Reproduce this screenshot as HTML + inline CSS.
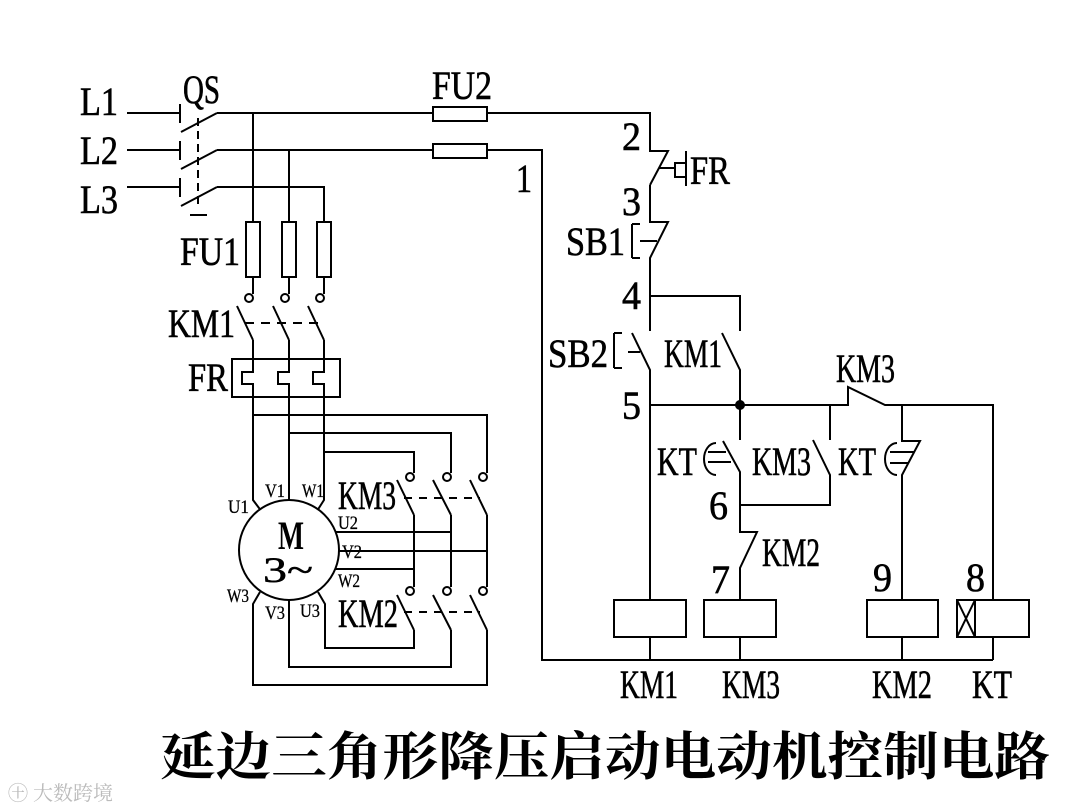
<!DOCTYPE html>
<html><head><meta charset="utf-8"><style>
html,body{margin:0;padding:0;background:#fff;}
svg{display:block}
text{font-family:"Liberation Serif","Noto Serif CJK SC",serif;fill:#000}
.b{font-size:40px;stroke:#000;stroke-width:0.6px}
.s{font-size:19px;stroke:#000;stroke-width:0.3px}
</style></head><body>
<svg width="1080" height="810" viewBox="0 0 1080 810" xmlns="http://www.w3.org/2000/svg">
<g stroke="#000" stroke-width="2" fill="none">
<path d="M127,113H180M127,150H180M127,187H180"/>
<path d="M180,104V123M180,141V160M180,178V197"/>
<path d="M181,132L217,113M181,169L217,150M181,206L217,187"/>
<path d="M198,118V205" stroke-dasharray="8,5"/>
<path d="M190,215H207"/>
<path d="M217,113H650V151H668L650,185"/>
<path d="M217,150H542V660H993"/>
<path d="M217,187H324V222"/>
<path d="M253,113V222M289,150V222"/>
<rect x="433" y="107" width="54" height="14" fill="#fff"/>
<rect x="433" y="144" width="54" height="14" fill="#fff"/>
<rect x="246" y="222" width="14" height="55"/>
<rect x="282" y="222" width="14" height="55"/>
<rect x="317" y="222" width="14" height="55"/>
<path d="M253,277V294M289,277V294M324,277V294"/>
<circle cx="249" cy="298" r="4"/><circle cx="285" cy="298" r="4"/><circle cx="320" cy="298" r="4"/>
<path d="M237,306L253,340M273,306L289,340M308,306L324,340"/>
<path d="M245,323H320" stroke-dasharray="9,7"/>
<rect x="232" y="359" width="108" height="38"/>
<path d="M253,340V372H242V384H253V415M289,340V372H278V384H289V433M324,340V372H313V384H324V452"/>
<path d="M253,415H487V473M289,433H451V473M324,452H414V473"/>
<circle cx="410" cy="477" r="4"/><circle cx="447" cy="477" r="4"/><circle cx="483" cy="477" r="4"/>
<path d="M397,480L414,515M433,480L451,515M470,480L487,515"/>
<path d="M404,498H480" stroke-dasharray="8,7"/>
<path d="M414,515V587M451,515V587M487,515V587"/>
<circle cx="410" cy="591" r="4"/><circle cx="447" cy="591" r="4"/><circle cx="483" cy="591" r="4"/>
<path d="M397,595L414,630M433,595L451,630M470,595L487,630"/>
<path d="M404,612H480" stroke-dasharray="8,7"/>
<path d="M414,630V648H325V604L318,592"/>
<path d="M451,630V667H289V600"/>
<path d="M487,630V685H253V604L260,592"/>
<path d="M253,415V500L262,512M289,433V500M324,452V500L317,511"/>
<path d="M336,532H451M339,551H487M336,569H414"/>
<circle cx="289" cy="550" r="50" fill="#fff"/>
<path d="M659,168H675"/>
<path d="M686,151V186M686,163H675V177H686"/>
<path d="M650,185V222H668L650,258V331"/>
<path d="M632,224V258M632,224H640M632,258H640M640,241H657"/>
<path d="M650,296H740V331"/>
<path d="M632,333L650,370V600"/>
<path d="M614,333V368M614,333H622M614,368H622M628,352H640"/>
<path d="M722,333L740,370V440"/>
<path d="M650,405H830V440M830,405H848V387L885,405H993V600"/>
<path d="M885,405H902V441H920L902,475V600"/>
<path d="M723,441L740,472V532H757L740,568V600"/>
<path d="M716,443A12,16 0 0 0 716,475M708,452H726M708,462H731"/>
<path d="M897,443A12,16 0 0 0 897,475M890,452H914M890,463H909"/>
<path d="M813,440L830,475V505H740"/>
<rect x="614" y="600" width="72" height="37"/>
<rect x="704" y="600" width="72" height="37"/>
<rect x="867" y="600" width="71" height="37"/>
<rect x="957" y="600" width="72" height="37"/>
<path d="M975,600V637M957,600L975,637M975,600L957,637"/>
<path d="M650,637V660M740,637V660M902,637V660M993,637V660"/>
</g>
<circle cx="740" cy="405" r="5" fill="#000"/>
<g class="b" lengthAdjust="spacingAndGlyphs">
<text x="80" y="115" textLength="38" lengthAdjust="spacingAndGlyphs">L1</text>
<text x="80" y="164" textLength="38" lengthAdjust="spacingAndGlyphs">L2</text>
<text x="80" y="213" textLength="38" lengthAdjust="spacingAndGlyphs">L3</text>
<text x="183" y="103" textLength="37" lengthAdjust="spacingAndGlyphs">QS</text>
<text x="432" y="99" textLength="60" lengthAdjust="spacingAndGlyphs">FU2</text>
<text x="180" y="265" textLength="60" lengthAdjust="spacingAndGlyphs">FU1</text>
<text x="168" y="337" textLength="67" lengthAdjust="spacingAndGlyphs">KM1</text>
<text x="188" y="391" textLength="40" lengthAdjust="spacingAndGlyphs">FR</text>
<text x="516" y="192" textLength="16" lengthAdjust="spacingAndGlyphs">1</text>
<text x="622" y="150" textLength="19" lengthAdjust="spacingAndGlyphs">2</text>
<text x="690" y="184" textLength="40" lengthAdjust="spacingAndGlyphs">FR</text>
<text x="622" y="215" textLength="19" lengthAdjust="spacingAndGlyphs">3</text>
<text x="566" y="255" textLength="59" lengthAdjust="spacingAndGlyphs">SB1</text>
<text x="622" y="309" textLength="19" lengthAdjust="spacingAndGlyphs">4</text>
<text x="548" y="367" textLength="60" lengthAdjust="spacingAndGlyphs">SB2</text>
<text x="664" y="367" textLength="58" lengthAdjust="spacingAndGlyphs">KM1</text>
<text x="622" y="419" textLength="19" lengthAdjust="spacingAndGlyphs">5</text>
<text x="836" y="382" textLength="59" lengthAdjust="spacingAndGlyphs">KM3</text>
<text x="657" y="475" textLength="40" lengthAdjust="spacingAndGlyphs">KT</text>
<text x="752" y="475" textLength="59" lengthAdjust="spacingAndGlyphs">KM3</text>
<text x="838" y="475" textLength="38" lengthAdjust="spacingAndGlyphs">KT</text>
<text x="709" y="519" textLength="19" lengthAdjust="spacingAndGlyphs">6</text>
<text x="762" y="566" textLength="58" lengthAdjust="spacingAndGlyphs">KM2</text>
<text x="711" y="593" textLength="19" lengthAdjust="spacingAndGlyphs">7</text>
<text x="873" y="591" textLength="19" lengthAdjust="spacingAndGlyphs">9</text>
<text x="966" y="591" textLength="19" lengthAdjust="spacingAndGlyphs">8</text>
<text x="620" y="698" textLength="58" lengthAdjust="spacingAndGlyphs">KM1</text>
<text x="722" y="698" textLength="58" lengthAdjust="spacingAndGlyphs">KM3</text>
<text x="872" y="698" textLength="60" lengthAdjust="spacingAndGlyphs">KM2</text>
<text x="972" y="698" textLength="40" lengthAdjust="spacingAndGlyphs">KT</text>
<text x="338" y="509" textLength="58" lengthAdjust="spacingAndGlyphs">KM3</text>
<text x="338" y="627" textLength="60" lengthAdjust="spacingAndGlyphs">KM2</text>
</g>
<g class="s">
<text x="228" y="513" textLength="21" lengthAdjust="spacingAndGlyphs">U1</text>
<text x="265" y="497" textLength="20" lengthAdjust="spacingAndGlyphs">V1</text>
<text x="302" y="497" textLength="22" lengthAdjust="spacingAndGlyphs">W1</text>
<text x="338" y="529" textLength="20" lengthAdjust="spacingAndGlyphs">U2</text>
<text x="342" y="558" textLength="20" lengthAdjust="spacingAndGlyphs">V2</text>
<text x="338" y="587" textLength="22" lengthAdjust="spacingAndGlyphs">W2</text>
<text x="227" y="602" textLength="22" lengthAdjust="spacingAndGlyphs">W3</text>
<text x="265" y="619" textLength="20" lengthAdjust="spacingAndGlyphs">V3</text>
<text x="300" y="617" textLength="20" lengthAdjust="spacingAndGlyphs">U3</text>
</g>
<text x="278" y="549" font-size="40" font-weight="bold" textLength="26" lengthAdjust="spacingAndGlyphs">M</text>
<text x="263" y="582" font-size="36" style="stroke:#000;stroke-width:0.5px" textLength="50" lengthAdjust="spacingAndGlyphs">3~</text>
<text x="160" y="775" font-size="52" font-weight="bold" font-family="'Noto Sans CJK SC',sans-serif" textLength="890" lengthAdjust="spacingAndGlyphs">延边三角形降压启动电动机控制电路</text>
<text x="8" y="800" font-size="20" style="fill:#bbb" font-family="'Noto Sans CJK SC',sans-serif">㊉ 大数跨境</text>
</svg>
</body></html>
